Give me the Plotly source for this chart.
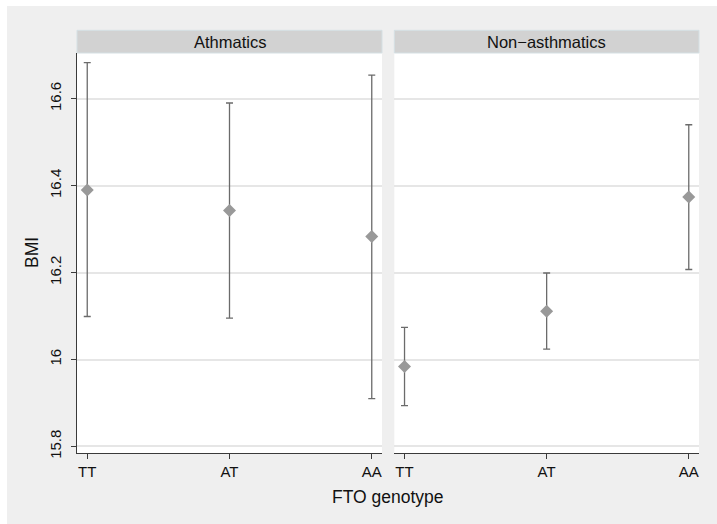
import plotly.graph_objects as go

genotypes = ["TT", "AT", "AA"]
panel_titles = ["Athmatics", "Non\u2212asthmatics"]

asth_mean = [16.390, 16.343, 16.283]
asth_lo = [16.099, 16.095, 15.910]
asth_hi = [16.683, 16.590, 16.654]

non_mean = [15.984, 16.111, 16.374]
non_lo = [15.894, 16.024, 16.207]
non_hi = [16.074, 16.199, 16.540]

y_ticks = [15.8, 16.0, 16.2, 16.4, 16.6]
y_ticktext = ["15.8", "16", "16.2", "16.4", "16.6"]

FONT = "Liberation Sans, Arial, sans-serif"
BG = "#efefef"
MARK = "#999999"
ERR = "#6b6b6b"
AX = "#3a3a3a"
GRID = "#e6e6e6"

fig = go.Figure()

def add_panel(mean, lo, hi, xa, ya):
    fig.add_trace(go.Scatter(
        x=genotypes, y=mean, mode="markers",
        marker=dict(symbol="diamond", size=10, color=MARK),
        error_y=dict(type="data", symmetric=False,
                     array=[h - m for h, m in zip(hi, mean)],
                     arrayminus=[m - l for m, l in zip(mean, lo)],
                     color=ERR, thickness=1.3, width=3.5),
        xaxis=xa, yaxis=ya, showlegend=False, hoverinfo="skip"))

add_panel(asth_mean, asth_lo, asth_hi, "x", "y")
add_panel(non_mean, non_lo, non_hi, "x2", "y2")

W, H = 717, 524
L, R, T, B = 77, 18, 53, 71
pw = W - L - R
ph = H - T - B
d1 = 305 / pw
d2 = (394.3 - L) / pw

xcommon = dict(type="category", categoryorder="array", categoryarray=genotypes,
               range=[-0.072, 2.072], showline=True, linecolor=AX, linewidth=1.3,
               ticks="outside", ticklen=5, tickcolor=AX, tickwidth=1.2,
               showgrid=False, zeroline=False,
               tickfont=dict(family=FONT, size=15, color="#111"))
ycommon = dict(range=[15.785, 16.705], tickvals=y_ticks, showgrid=True,
               gridcolor=GRID, gridwidth=1.5, zeroline=False)

fig.update_layout(
    width=W, height=H,
    margin=dict(l=L, r=R, t=T, b=B, pad=0),
    paper_bgcolor=BG, plot_bgcolor="white",
    xaxis=dict(domain=[0, d1], anchor="y", **xcommon),
    xaxis2=dict(domain=[d2, 1], anchor="y2", **xcommon),
    yaxis=dict(anchor="x", ticktext=y_ticktext, showline=True, linecolor=AX, linewidth=1.3,
               ticks="outside", ticklen=5, tickcolor=AX, tickwidth=1.2, tickangle=-90,
               ticklabelstandoff=4,
               tickfont=dict(family=FONT, size=15, color="#111"), **ycommon),
    yaxis2=dict(anchor="x2", matches="y", showticklabels=False, ticks="",
                showline=False, **ycommon),
    font=dict(family=FONT, color="#111"),
)

strip_h = 22.7 / ph
for xa, title in zip(["x", "x2"], panel_titles):
    fig.add_shape(type="rect", xref=xa + " domain", yref="y domain",
                  x0=0, x1=1, y0=1, y1=1 + strip_h,
                  fillcolor="#d2d2d2", line=dict(color="#d5e0e4", width=1))
    fig.add_annotation(xref=xa + " domain", yref="y domain", x=0.5, y=1 + strip_h / 2,
                       text=title, showarrow=False, yanchor="middle", xanchor="center",
                       font=dict(family=FONT, size=16.5, color="#111"))

# thin white outer margin at the top and left of the picture
fig.add_shape(type="rect", xref="paper", yref="paper", layer="below",
              x0=-L / pw, x1=(7 - L) / pw, y0=-B / ph, y1=(H - B) / ph,
              fillcolor="white", line=dict(width=0))
fig.add_shape(type="rect", xref="paper", yref="paper", layer="below",
              x0=-L / pw, x1=(W - L) / pw, y0=(H - B - 6) / ph, y1=(H - B) / ph,
              fillcolor="white", line=dict(width=0))

# axis titles
fig.add_annotation(xref="paper", yref="paper", x=(32 - L) / pw, y=0.5, text="BMI",
                   textangle=-90, showarrow=False, xanchor="center", yanchor="middle",
                   font=dict(family=FONT, size=17.5, color="#111"))
fig.add_annotation(xref="paper", yref="paper", x=(388 - L) / pw,
                   y=-(497 - (H - B)) / ph,
                   text="FTO genotype", showarrow=False, xanchor="center", yanchor="middle",
                   font=dict(family=FONT, size=17.5, color="#111"))

fig.write_html(
    "out.html",
    config={"displayModeBar": False},
    post_script="document.body.style.margin='0';document.body.style.overflow='hidden';",
)
